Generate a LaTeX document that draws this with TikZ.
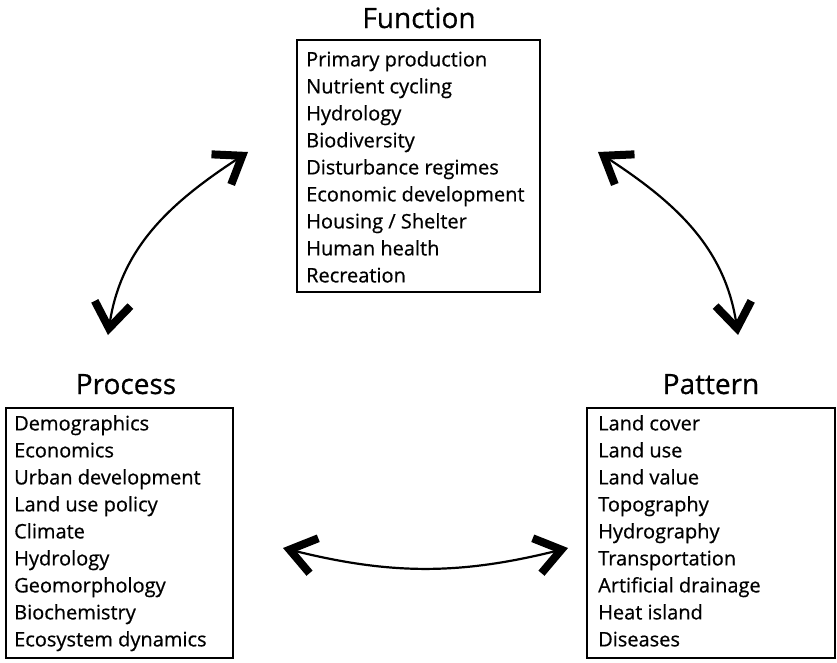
\documentclass[tikz,border=0pt]{standalone}
\usepackage{fontspec}
\setmainfont{Open Sans}[FakeBold=0.6]
\usetikzlibrary{arrows.meta}

\begin{document}
\begin{tikzpicture}[x=1pt,y=-1pt,
  panel/.style={draw, line width=2pt, inner sep=0pt, outer sep=0pt, anchor=north west},
  items/.style={anchor=north west, align=left, inner sep=0pt,
    font=\fontsize{20}{27}\selectfont},
  heading/.style={anchor=base, inner sep=0pt, font=\fontsize{28}{32}\selectfont},
  barb/.tip={Straight Barb[length=25pt,width=36pt,line width=8pt,sharp]},
  link/.style={line width=2.2pt, {barb}-{barb}}
]
\useasboundingbox (0,0) rectangle (837,662);

% headings
\node[heading] (fhead) at (419,28)  {Function};
\node[heading] (phead) at (126,394) {Process};
\node[heading] (thead) at (711,394) {Pattern};

% framed lists
\node[panel, minimum width=243pt, minimum height=252pt] (fbox) at (297,40) {};
\node[panel, minimum width=227pt, minimum height=250pt] (pbox) at (6,408) {};
\node[panel, minimum width=248pt, minimum height=250pt] (tbox) at (587,408) {};

\node[items] (flist) at (306,51) {\rule{0pt}{15pt}Primary production\\
  Nutrient cycling\\ Hydrology\\ Biodiversity\\ Disturbance regimes\\
  Economic development\\ Housing / Shelter\\ Human health\\ Recreation};

\node[items] (plist) at (14,415) {\rule{0pt}{15pt}Demographics\\
  Economics\\ Urban development\\ Land use policy\\ Climate\\
  Hydrology\\ Geomorphology\\ Biochemistry\\ Ecosystem dynamics};

\node[items] (tlist) at (598,415) {\rule{0pt}{15pt}Land cover\\
  Land use\\ Land value\\ Topography\\ Hydrography\\
  Transportation\\ Artificial drainage\\ Heat island\\ Diseases};

% arrow ends
\coordinate (fl) at (248,152);
\coordinate (pl) at (108,335);
\coordinate (fr) at (598,152);
\coordinate (tr) at (738,335);
\coordinate (pb) at (283,548);
\coordinate (tb) at (568,548);

% two-way links
\draw[link] (pl) .. controls (121,246) and (173,201) .. (fl);
\draw[link] (tr) .. controls (725,246) and (673,201) .. (fr);
\draw[link] (pb) .. controls (391,575) and (460,575) .. (tb);
\end{tikzpicture}
\end{document}
